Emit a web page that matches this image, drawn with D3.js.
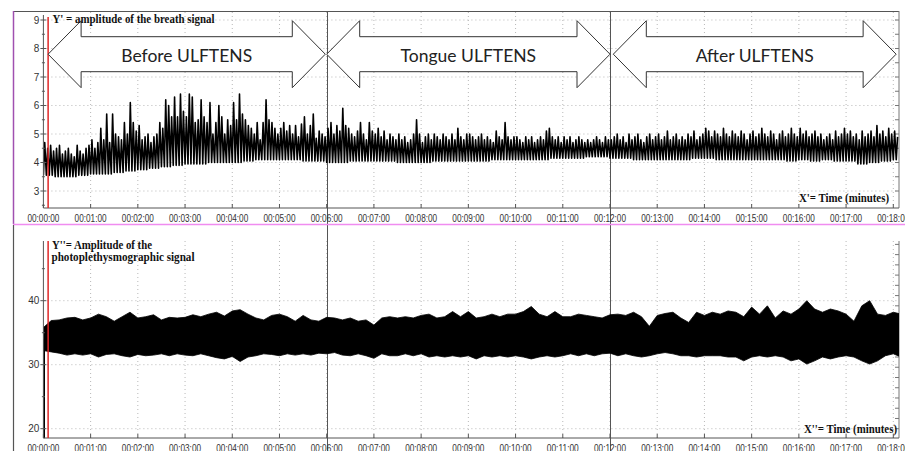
<!DOCTYPE html>
<html><head><meta charset="utf-8">
<script src="https://cdn.jsdelivr.net/npm/d3@7"></script>
<style>
body{margin:0;background:#fff;}
svg{display:block;}
</style></head><body>
<svg id="c" width="905" height="451"></svg>
<script>
// ---------------- DATA ----------------
const timeTickLabels = ["00:00:00","00:01:00","00:02:00","00:03:00","00:04:00","00:05:00","00:06:00","00:07:00","00:08:00","00:09:00","00:10:00","00:11:00","00:12:00","00:13:00","00:14:00","00:15:00","00:16:00","00:17:00","00:18:00"];
const breathYTicks = [3,4,5,6,7,8,9];
const ppgYTicks = [20,30,40];
const phaseLabels = ["Before ULFTENS","Tongue ULFTENS","After ULFTENS"];
const phaseArrowStart = [0.1, 6.0, 12.07];   // minutes
const phaseArrowEnd   = [5.97, 12.0, 18.06];
const phaseBoundaries = [6, 12];
const cursorTime = 0.1;
const breathsPerMinute = 16;
const phaseStartTimes = [0, 6, 12];

// breath signal: peak of each breath (Y'), per phase
const breathPeaksBefore = [
 4.7,4.5,4.6,4.4,4.5,4.6,4.3,4.4,4.5,4.3,4.2,4.6,4.4,4.3,4.5,4.6,
 4.8,4.5,4.7,5.2,4.8,5.7,4.7,5.7,5.0,4.9,4.8,5.4,5.0,6.1,5.4,5.1,
 5.3,4.8,4.9,5.0,4.7,4.9,5.0,5.4,5.2,6.2,6.0,5.6,6.3,5.6,6.4,5.8,
 5.6,6.4,6.3,5.4,5.5,6.2,5.6,5.4,6.1,5.0,5.4,6.0,5.6,5.0,5.5,5.3,
 6.1,5.5,6.4,5.7,5.5,5.3,5.2,5.0,5.4,4.8,5.4,6.2,5.5,5.4,5.2,5.0,
 5.2,5.4,5.1,5.3,5.0,5.3,4.9,5.35,5.6,5.0,5.3,5.7,4.85,5.1,5.0,4.9];
const breathPeaksTongue = [
 5.2,5.4,5.0,5.3,5.1,5.9,5.3,5.2,5.0,4.9,5.1,5.4,5.0,4.8,5.4,5.1,
 5.0,5.2,4.9,5.1,4.8,5.0,4.9,4.8,5.0,4.8,4.9,4.7,4.8,5.0,5.5,5.0,
 4.7,4.9,5.0,4.8,5.0,4.9,4.8,5.0,4.9,4.8,5.0,4.8,5.2,4.9,4.8,5.0,
 5.0,4.9,4.8,4.9,5.0,4.8,4.9,4.8,4.7,5.1,4.9,4.8,5.4,4.9,4.8,4.9,
 4.9,4.8,4.7,4.9,4.8,4.9,4.7,4.8,4.9,4.8,5.1,5.2,4.9,4.8,4.9,4.7,
 4.9,4.8,4.9,4.7,4.8,4.9,4.8,4.7,4.8,4.7,4.8,4.9,4.8,4.7,4.9,4.8];
const breathPeaksAfter = [
 4.8,4.9,5.0,4.8,4.9,4.7,5.0,4.8,4.9,5.0,4.8,4.7,4.9,5.0,4.8,4.9,
 5.0,4.8,4.9,5.1,4.8,4.9,5.0,4.8,4.9,4.8,5.0,4.9,5.1,4.8,4.9,5.0,
 5.2,5.1,4.9,5.1,5.0,4.9,5.2,5.0,4.9,5.1,5.0,4.9,5.1,5.0,4.8,5.0,
 5.1,4.9,5.0,5.2,5.0,4.9,5.1,5.0,4.8,5.0,5.1,4.9,5.0,5.2,5.0,4.9,
 5.2,5.0,5.1,4.9,5.0,5.1,4.9,5.0,4.8,4.9,5.0,4.8,5.1,4.9,5.0,5.2,
 5.0,5.1,4.9,5.0,4.8,5.1,4.9,5.0,5.1,4.9,5.3,5.0,5.1,4.9,5.2,5.0,
 5.1,4.9];
// breath baseline (trough) per quarter minute
const breathTroughsBefore = [3.55,3.5,3.5,3.55, 3.6,3.6,3.65,3.7, 3.75,3.8,3.85,3.9, 3.95,3.95,4.0,4.0, 4.0,4.05,4.1,4.1, 4.1,4.1,4.05,4.05];
const breathTroughsTongue = [4.0,4.0,4.05,4.05, 4.05,4.05,4.0,4.0, 4.0,4.05,4.05,4.05, 4.05,4.05,4.1,4.1, 4.1,4.1,4.1,4.15, 4.15,4.15,4.2,4.2];
const breathTroughsAfter  = [4.15,4.15,4.1,4.1, 4.1,4.1,4.1,4.15, 4.15,4.1,4.1,4.1, 4.1,4.1,4.1,4.05, 4.1,4.05,4.1,4.05, 4.05,3.95,4.0,4.05, 4.1];

// photoplethysmographic signal: upper / lower envelope every 10 s
const ppgStepSeconds = 10;
const ppgOnset = [18.5, 34];
const ppgUpperBefore = [35.8,36.9,37.0,37.3,37.4,37.0,37.3,37.9,37.5,36.8,37.5,38.2,37.3,37.5,37.8,37.0,37.4,37.3,37.4,37.8,37.5,37.9,38.2,37.6,38.4,38.6,37.9,37.3,37.0,37.7,37.9,37.5,36.8,37.7,37.0,36.8];
const ppgLowerBefore = [32.2,32.0,31.8,31.5,31.7,31.5,31.7,31.2,31.6,31.7,31.4,31.2,31.6,31.4,31.5,31.7,31.4,31.7,31.5,31.4,31.7,31.4,31.1,30.9,31.3,30.5,31.2,31.4,31.7,31.6,31.4,31.7,31.5,31.7,31.5,31.8];
const ppgUpperTongue = [37.4,37.3,37.0,37.3,36.8,37.0,36.2,37.3,37.5,37.3,37.5,37.3,37.7,37.9,37.3,37.5,38.3,37.5,38.3,37.3,37.5,37.9,37.5,37.9,37.9,38.3,39.1,37.9,37.5,38.3,37.5,37.5,37.9,37.7,37.5,37.3];
const ppgLowerTongue = [31.7,31.9,31.5,31.4,31.7,31.4,31.0,31.7,31.4,31.4,31.7,31.4,31.7,31.2,31.4,31.2,31.4,31.2,31.4,30.9,31.4,31.2,31.4,31.2,31.4,31.2,30.9,31.2,31.4,31.2,31.4,31.7,31.4,31.7,31.4,31.7];
const ppgUpperAfter = [37.8,37.9,37.7,38.2,37.5,36.0,37.7,38.0,38.2,37.3,36.6,38.2,37.7,38.2,37.9,38.4,38.2,37.5,39.0,37.9,39.2,37.3,38.4,37.9,38.7,40.0,38.7,38.2,38.7,38.4,37.9,36.8,39.2,40.0,37.9,37.7,38.2,37.9];
const ppgLowerAfter = [31.8,31.4,31.7,31.4,31.2,31.4,31.7,31.9,31.7,31.4,31.4,31.2,31.4,31.4,31.4,31.2,31.2,30.6,31.2,31.4,31.2,31.4,31.2,30.6,30.9,30.1,30.6,31.2,30.9,31.2,31.4,31.2,30.6,30.1,30.6,31.4,31.7,31.2];

// ---------------- LAYOUT ----------------
const svg = d3.select("#c");
const plotL = 43.4, plotR = 899;
const topP = {y0: 12, y1: 208};
const botP = {y0: 241, y1: 438};
const x = d3.scaleLinear().domain([0, 18]).range([43.4, 893.3]);
const yB = d3.scaleLinear().domain([3, 9]).range([191, 20]);
const yP = d3.scaleLinear().domain([20, 40]).range([428.7, 300.7]);

const defs = svg.append("defs");
defs.append("clipPath").attr("id","clipTop").append("rect")
  .attr("x", plotL).attr("y", topP.y0).attr("width", plotR-plotL).attr("height", topP.y1-topP.y0);
defs.append("clipPath").attr("id","clipBot").append("rect")
  .attr("x", plotL).attr("y", botP.y0).attr("width", plotR-plotL).attr("height", botP.y1-botP.y0);

const minutes = d3.range(timeTickLabels.length);
const gridColor = "#b8b8b8";

// grids
function grid(panel, yScale, yticks){
  const g = svg.append("g");
  g.selectAll("line.v").data(minutes.filter(m=>m>0)).join("line")
    .attr("x1", d=>x(d)).attr("x2", d=>x(d))
    .attr("y1", panel.y0).attr("y2", panel.y1)
    .attr("stroke", gridColor).attr("stroke-width",1).attr("stroke-dasharray","1,3");
  g.selectAll("line.h").data(yticks).join("line")
    .attr("x1", plotL).attr("x2", plotR)
    .attr("y1", d=>yScale(d)).attr("y2", d=>yScale(d))
    .attr("stroke", gridColor).attr("stroke-width",1).attr("stroke-dasharray","1,3");
}
grid(topP, yB, breathYTicks);
grid(botP, yP, ppgYTicks);

// phase boundary lines
svg.append("g").selectAll("line").data(phaseBoundaries).join("line")
  .attr("x1", d=>Math.round(x(d))+0.5).attr("x2", d=>Math.round(x(d))+0.5)
  .attr("y1", 11).attr("y2", 451).attr("stroke","#555").attr("stroke-width",1);

// frame
const frame = svg.append("g");
frame.append("line").attr("x1",13).attr("x2",plotR).attr("y1",11.5).attr("y2",11.5).attr("stroke","#555");
frame.append("line").attr("x1",plotR).attr("x2",plotR).attr("y1",11).attr("y2",topP.y1).attr("stroke","#777");
frame.append("line").attr("x1",plotR).attr("x2",plotR).attr("y1",botP.y0).attr("y2",botP.y1).attr("stroke","#777");
frame.append("line").attr("x1",13.5).attr("x2",13.5).attr("y1",11).attr("y2",224).attr("stroke","#a050b0").attr("stroke-width",1.5);
frame.append("line").attr("x1",13).attr("x2",905).attr("y1",224.5).attr("y2",224.5).attr("stroke","#f08cf0").attr("stroke-width",1.5);
frame.append("line").attr("x1",13.5).attr("x2",13.5).attr("y1",225).attr("y2",451).attr("stroke","#555").attr("stroke-width",1.2);

// right-side minor ticks
function rightTicks(vals, yScale){
  svg.append("g").selectAll("line").data(vals).join("line")
    .attr("x1", plotR-4).attr("x2", plotR)
    .attr("y1", d=>yScale(d)).attr("y2", d=>yScale(d))
    .attr("stroke","#777");
}
rightTicks(d3.range(3, 9.01, 0.5), yB);
rightTicks(d3.range(20, 49.5, 1.6), yP);

// ---------------- BREATH SIGNAL ----------------
function breathPoints(peaks, troughs, start){
  const pts = [];
  peaks.forEach((p, i) => {
    const t = start + i / breathsPerMinute;
    const tr = troughs[Math.min(troughs.length-1, Math.floor(i / breathsPerMinute * 4))];
    pts.push([t, tr]);
    pts.push([t + 0.45 / breathsPerMinute, p]);
  });
  return pts;
}
const breathData = [].concat(
  breathPoints(breathPeaksBefore, breathTroughsBefore, phaseStartTimes[0]),
  breathPoints(breathPeaksTongue, breathTroughsTongue, phaseStartTimes[1]),
  breathPoints(breathPeaksAfter, breathTroughsAfter, phaseStartTimes[2]));

svg.append("path").datum(breathData)
  .attr("clip-path","url(#clipTop)")
  .attr("fill","none").attr("stroke","#000").attr("stroke-width",1.6)
  .attr("stroke-linejoin","round")
  .attr("d", d3.line().x(d=>x(d[0])).y(d=>yB(d[1])));

// ---------------- PPG SIGNAL ----------------
const ppgUpper = [].concat(ppgUpperBefore, ppgUpperTongue, ppgUpperAfter);
const ppgLower = [].concat(ppgLowerBefore, ppgLowerTongue, ppgLowerAfter);
const ppgData = ppgUpper.map((u, k) => ({t: k * ppgStepSeconds / 60, u, l: ppgLower[k]}));

svg.append("path").datum(ppgData)
  .attr("clip-path","url(#clipBot)")
  .attr("fill","#000").attr("stroke","#000").attr("stroke-width",0.8)
  .attr("d", d3.area().x(d=>x(d.t)).y0(d=>yP(d.l)).y1(d=>yP(d.u)));
svg.append("line")
  .attr("x1", x(0)+0.8).attr("x2", x(0)+0.8)
  .attr("y1", yP(ppgOnset[0])).attr("y2", yP(ppgOnset[1]))
  .attr("stroke","#000").attr("stroke-width",1.6);

// ---------------- AXES ----------------
const axisColor = "#555";
const tickFont = "'Liberation Sans', Arial, sans-serif";
function leftAxis(panel, yScale, majors, minors, topY){
  const g = svg.append("g");
  g.append("line").attr("x1",plotL).attr("x2",plotL).attr("y1",topY).attr("y2",panel.y1).attr("stroke",axisColor);
  g.selectAll("line.mj").data(majors).join("line")
    .attr("x1",plotL-3).attr("x2",plotL+3).attr("y1",d=>yScale(d)).attr("y2",d=>yScale(d)).attr("stroke",axisColor);
  g.selectAll("line.mn").data(minors).join("line")
    .attr("x1",plotL-1.5).attr("x2",plotL+1.5).attr("y1",d=>yScale(d)).attr("y2",d=>yScale(d)).attr("stroke",axisColor);
  g.selectAll("text").data(majors).join("text")
    .attr("x", plotL-4).attr("y", d=>yScale(d)+3.5)
    .attr("text-anchor","end").attr("font-family",tickFont).attr("font-size",10)
    .attr("fill","#333").text(d=>d);
}
leftAxis(topP, yB, breathYTicks, [2.5,3.5,4.5,5.5,6.5,7.5,8.5], 15);
leftAxis(botP, yP, ppgYTicks, [25,35,45], botP.y0);

function bottomAxis(panel){
  const g = svg.append("g");
  g.append("line").attr("x1",plotL).attr("x2",plotR).attr("y1",panel.y1).attr("y2",panel.y1).attr("stroke",axisColor);
  g.selectAll("line").filter(".t").data(minutes).join("line")
    .attr("x1",d=>x(d)).attr("x2",d=>x(d)).attr("y1",panel.y1-4).attr("y2",panel.y1).attr("stroke",axisColor);
  g.selectAll("text").data(minutes).join("text")
    .attr("x",d=>x(d)).attr("y",panel.y1+14)
    .attr("text-anchor","middle").attr("font-family",tickFont).attr("font-size",10.5)
    .attr("textLength",32).attr("lengthAdjust","spacingAndGlyphs")
    .attr("fill","#333").text(d=>timeTickLabels[d]);
}
bottomAxis(topP);
bottomAxis(botP);

// cursor (red)
svg.append("line").attr("x1",x(cursorTime)).attr("x2",x(cursorTime)).attr("y1",17).attr("y2",topP.y1)
  .attr("stroke","#e02828").attr("stroke-width",1.5);
svg.append("line").attr("x1",x(cursorTime)).attr("x2",x(cursorTime)).attr("y1",botP.y0).attr("y2",botP.y1)
  .attr("stroke","#e02828").attr("stroke-width",1.5);

// ---------------- PHASE ARROWS ----------------
const arrowCy = yB(7.8), shaftH = 17.5, headH = 33.5, headL = 33;
const arrows = svg.append("g");
phaseLabels.forEach((lab, i) => {
  const l = x(phaseArrowStart[i]), r = x(phaseArrowEnd[i]);
  const pts = [[l,arrowCy],[l+headL,arrowCy-headH],[l+headL,arrowCy-shaftH],[r-headL,arrowCy-shaftH],[r-headL,arrowCy-headH],
    [r,arrowCy],[r-headL,arrowCy+headH],[r-headL,arrowCy+shaftH],[l+headL,arrowCy+shaftH],[l+headL,arrowCy+headH]];
  arrows.append("polygon").attr("points", pts.map(p=>p.join(",")).join(" "))
    .attr("fill","#fff").attr("stroke","#333").attr("stroke-width",1);
  arrows.append("text").attr("x",(l+r)/2).attr("y",arrowCy+7.5)
    .attr("text-anchor","middle").attr("font-family","Lato, 'Open Sans', sans-serif")
    .attr("font-size",17.5).attr("fill","#222").text(lab);
});

// ---------------- ANNOTATION TEXT ----------------
const serif = "'Liberation Serif', 'Times New Roman', serif";
function label(txt, xx, yy, w, anchor){
  svg.append("text").attr("x",xx).attr("y",yy).attr("text-anchor",anchor||"start")
    .attr("font-family",serif).attr("font-weight","bold").attr("font-size",11.5)
    .attr("textLength",w).attr("lengthAdjust","spacingAndGlyphs")
    .attr("fill","#111").text(txt);
}
label("Y' = amplitude of the breath signal", 52.5, 22.5, 162);
label("X'= Time (minutes)", 799, 202, 90);
label("Y''= Amplitude of the", 52, 248.5, 100);
label("photoplethysmographic signal", 51.5, 260.5, 143);
label("X''= Time (minutes)", 804, 433, 93);
</script>
</body></html>
